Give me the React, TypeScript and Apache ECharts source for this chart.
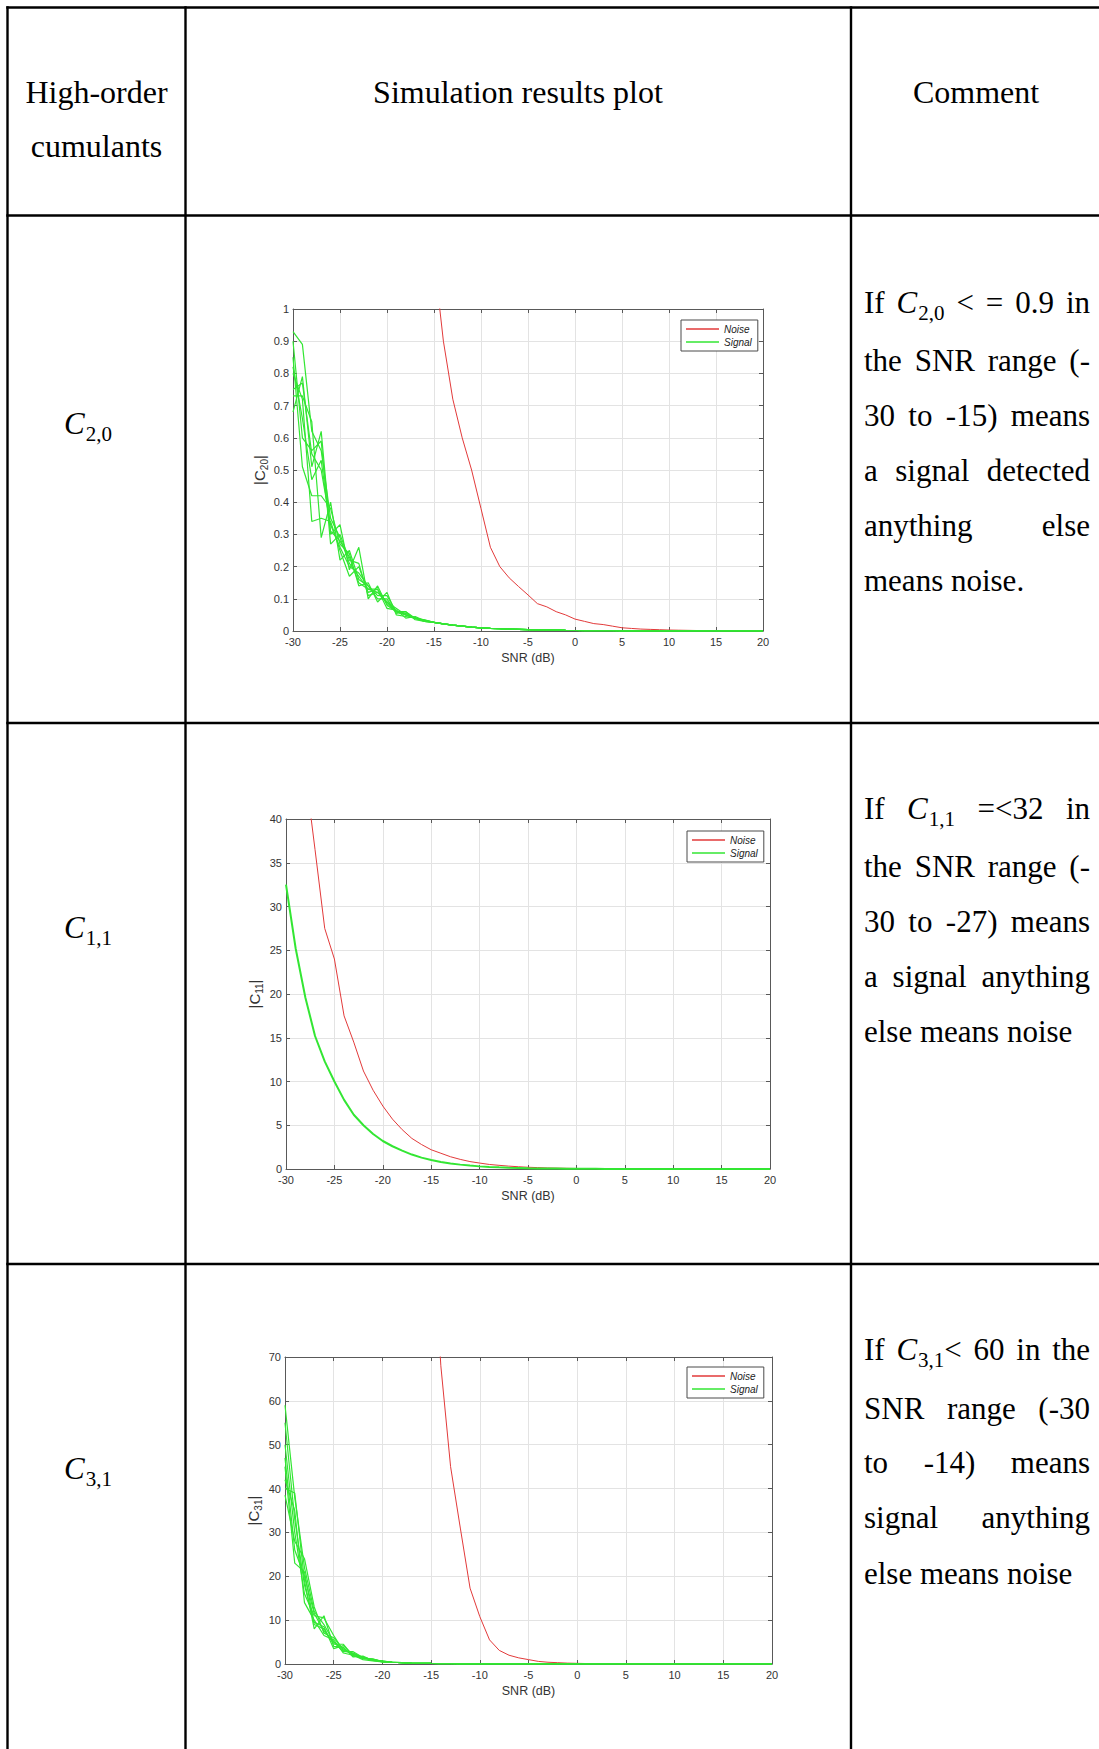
import React, { useEffect, useRef } from "react";
import * as echarts from "echarts";

// ---------------- DATA ----------------
const snrDb = [-30, -29, -28, -27, -26, -25, -24, -23, -22, -21, -20, -19, -18, -17, -16, -15, -14, -13, -12, -11, -10, -9, -8, -7, -6, -5, -4, -3, -2, -1, 0, 1, 2, 3, 4, 5, 6, 7, 8, 9, 10, 11, 12, 13, 14, 15, 16, 17, 18, 19, 20];

// |C20| noise (values off the top of the plot before -15 dB are not visible)
const c20Noise = [null, null, null, null, null, null, null, null, null, null, null, null, null, null, null,
  1.16, 0.9, 0.72, 0.6, 0.5, 0.38, 0.26, 0.2, 0.165, 0.138, 0.112, 0.085, 0.075, 0.06, 0.05, 0.037, 0.03, 0.023, 0.02, 0.015, 0.01, 0.008, 0.006, 0.005, 0.004, 0.003, 0.0025, 0.002, 0.0015, 0.001, 0.001, 0.0008, 0.0006, 0.0005, 0.0004, 0.0003];

// |C20| signal runs, -30 .. -16 dB
const c20SignalRun1 = [0.93, 0.89, 0.62, 0.56, 0.35, 0.29, 0.21, 0.17, 0.13, 0.12, 0.09, 0.06, 0.05, 0.04, 0.035];
const c20SignalRun2 = [0.68, 0.79, 0.51, 0.62, 0.3, 0.33, 0.19, 0.26, 0.1, 0.14, 0.08, 0.06, 0.06, 0.035, 0.03];
const c20SignalRun3 = [0.85, 0.51, 0.42, 0.42, 0.38, 0.27, 0.24, 0.14, 0.15, 0.09, 0.12, 0.05, 0.045, 0.04, 0.03];
const c20SignalRun4 = [0.8, 0.72, 0.34, 0.35, 0.34, 0.25, 0.17, 0.2, 0.12, 0.13, 0.07, 0.065, 0.04, 0.045, 0.032];
const c20SignalRun5 = [0.73, 0.73, 0.65, 0.29, 0.4, 0.22, 0.25, 0.16, 0.14, 0.1, 0.1, 0.055, 0.06, 0.04, 0.033];
const c20SignalRun6 = [0.9, 0.6, 0.56, 0.59, 0.27, 0.3, 0.22, 0.21, 0.11, 0.12, 0.09, 0.07, 0.05, 0.04, 0.03];
const c20SignalRun7 = [0.75, 0.77, 0.55, 0.5, 0.33, 0.26, 0.2, 0.18, 0.14, 0.11, 0.11, 0.06, 0.055, 0.038, 0.034];
const c20SignalRun8 = [0.82, 0.66, 0.47, 0.53, 0.31, 0.28, 0.23, 0.15, 0.13, 0.13, 0.085, 0.06, 0.05, 0.042, 0.031];
// common tail of the signal runs, -15 .. 20 dB
const c20SignalTail = [0.027, 0.022, 0.018, 0.015, 0.012, 0.01, 0.008, 0.007, 0.006, 0.005, 0.004, 0.0035, 0.003, 0.0025, 0.002, 0.0016, 0.0013, 0.001, 0.0008, 0.0007, 0.0006, 0.0005, 0.0004, 0.0003, 0.0003, 0.0002, 0.0002, 0.0002, 0.0001, 0.0001, 0.0001, 0.0001, 0.0001, 0.0001, 0.0001, 0.0001];

// |C11|
const c11Noise = [null, null, 45.3, 36.5, 27.5, 24, 17.5, 14.5, 11.2, 9, 7.2, 5.7, 4.5, 3.5, 2.8, 2.2, 1.8, 1.4, 1.1, 0.85, 0.68, 0.52, 0.42, 0.33, 0.26, 0.2, 0.16, 0.12, 0.1, 0.08, 0.06, 0.05, 0.04, 0.03, 0.025, 0.02, 0.016, 0.013, 0.01, 0.008, 0.006, 0.005, 0.004, 0.003, 0.0025, 0.002, 0.0016, 0.0013, 0.001, 0.0008, 0.0006];
const c11Signal = [32.5, 25.2, 19.6, 15.2, 12.3, 10.0, 7.9, 6.2, 5.0, 4.0, 3.2, 2.6, 2.1, 1.65, 1.3, 1.02, 0.8, 0.63, 0.5, 0.39, 0.3, 0.24, 0.19, 0.15, 0.12, 0.09, 0.07, 0.055, 0.045, 0.035, 0.028, 0.022, 0.017, 0.013, 0.01, 0.008, 0.006, 0.005, 0.004, 0.003, 0.0025, 0.002, 0.0016, 0.0013, 0.001, 0.0008, 0.0006, 0.0005, 0.0004, 0.0003, 0.0002];

// |C31|
const c31Noise = [null, null, null, null, null, null, null, null, null, null, null, null, null, null, null,
  105, 68, 45, 31, 17.3, 10.8, 5.5, 3.1, 2.0, 1.4, 1.0, 0.6, 0.4, 0.3, 0.2, 0.15, 0.1, 0.08, 0.06, 0.04, 0.03, 0.022, 0.016, 0.012, 0.009, 0.007, 0.005, 0.004, 0.003, 0.002, 0.0015, 0.001, 0.0008, 0.0006, 0.0004, 0.0003];
// |C31| signal runs, -30 .. -20 dB
const c31SignalRun1 = [59, 38, 22, 12, 9, 5, 3.5, 2.2, 1.5, 1.0, 0.6];
const c31SignalRun2 = [50, 30, 16, 11, 10.5, 6.5, 3, 2.5, 1.4, 0.9, 0.5];
const c31SignalRun3 = [45, 23, 21, 9, 8, 4.5, 4.5, 1.8, 1.6, 0.8, 0.6];
const c31SignalRun4 = [42, 35, 14, 10, 6.5, 5.5, 2.5, 2.0, 1.2, 1.1, 0.5];
const c31SignalRun5 = [40, 39, 19, 8, 11, 4, 3.8, 1.6, 1.8, 0.8, 0.7];
const c31SignalRun6 = [38.5, 28, 24, 13, 7, 6, 3.2, 2.4, 1.3, 1.2, 0.55];
const c31SignalRun7 = [55, 33, 18, 9.5, 8.5, 3.5, 4.2, 2.0, 1.0, 0.7, 0.45];
const c31SignalRun8 = [47, 26, 20, 11.5, 7.5, 5, 2.8, 2.8, 1.5, 1.0, 0.65];
// common tail, -19 .. 20 dB
const c31SignalTail = [0.4, 0.3, 0.22, 0.16, 0.12, 0.09, 0.07, 0.05, 0.04, 0.03, 0.022, 0.016, 0.012, 0.009, 0.007, 0.005, 0.004, 0.003, 0.0025, 0.002, 0.0015, 0.0012, 0.001, 0.0008, 0.0006, 0.0005, 0.0004, 0.0003, 0.0003, 0.0002, 0.0002, 0.0002, 0.0001, 0.0001, 0.0001, 0.0001, 0.0001, 0.0001, 0.0001, 0.0001];

const seriesNames = ["Noise", "Signal"];
const xAxisTitle = "SNR (dB)";
const yAxisSubscripts = ["20", "11", "31"];
const yMaxima = [1, 40, 70];
const yIntervals = [0.1, 5, 10];

const headerTexts = [["High-order", "cumulants"], ["Simulation results plot"], ["Comment"]];
const rowLabelSubs = ["2,0", "1,1", "3,1"];

type Tok = string | { c: string; sub: string; tail?: string };
type Line = { toks: Tok[]; justify: boolean };
const comment1: Line[] = [
  { toks: ["If", { c: "C", sub: "2,0" }, "<", "=", "0.9", "in"], justify: true },
  { toks: ["the", "SNR", "range", "(-"], justify: true },
  { toks: ["30", "to", "-15)", "means"], justify: true },
  { toks: ["a", "signal", "detected"], justify: true },
  { toks: ["anything", "else"], justify: true },
  { toks: ["means", "noise."], justify: false },
];
const comment2: Line[] = [
  { toks: ["If", { c: "C", sub: "1,1" }, "=<32", "in"], justify: true },
  { toks: ["the", "SNR", "range", "(-"], justify: true },
  { toks: ["30", "to", "-27)", "means"], justify: true },
  { toks: ["a", "signal", "anything"], justify: true },
  { toks: ["else", "means", "noise"], justify: false },
];
const comment3: Line[] = [
  { toks: ["If", { c: "C", sub: "3,1", tail: "<" }, "60", "in", "the"], justify: true },
  { toks: ["SNR", "range", "(-30"], justify: true },
  { toks: ["to", "-14)", "means"], justify: true },
  { toks: ["signal", "anything"], justify: true },
  { toks: ["else", "means", "noise"], justify: false },
];

// ---------------- LAYOUT / STYLE ----------------
const SERIF = "Liberation Serif";
const SANS = "Liberation Sans";
const RED = "#e23a3a";
const GREEN = "#33e633";
const AXIS = "#595959";
const GRIDC = "#e3e3e3";
const LABELC = "#333333";

let measureCtx: CanvasRenderingContext2D | null = null;
function measure(text: string, fs: number, italic = false): number {
  if (!measureCtx) measureCtx = document.createElement("canvas").getContext("2d");
  measureCtx!.font = `${italic ? "italic " : ""}${fs}px "${SERIF}"`;
  return measureCtx!.measureText(text).width;
}

function txt(text: string, x: number, baseline: number, fs: number, italic = false, align = "left") {
  return {
    type: "text",
    x,
    y: baseline - 0.3375 * fs,
    silent: true,
    style: {
      text,
      fontSize: fs,
      fontFamily: SERIF,
      fontStyle: italic ? "italic" : "normal",
      fill: "#000",
      align,
      verticalAlign: "middle",
    },
  };
}

const FS = 31;
const HFS = 32;
const SUBFS = 21;

function mathEls(t: { c: string; sub: string; tail?: string }, x: number, baseline: number) {
  const els: any[] = [];
  const wc = measure(t.c, FS, true);
  els.push(txt(t.c, x, baseline, FS, true));
  els.push(txt(t.sub, x + wc + 1, baseline + 7, SUBFS));
  let w = wc + 1 + measure(t.sub, SUBFS);
  if (t.tail) {
    els.push(txt(t.tail, x + w, baseline, FS));
    w += measure(t.tail, FS);
  }
  return { els, w };
}
function tokWidth(t: Tok) {
  if (typeof t === "string") return measure(t, FS);
  let w = measure(t.c, FS, true) + 1 + measure(t.sub, SUBFS);
  if (t.tail) w += measure(t.tail, FS);
  return w;
}

function paragraph(lines: Line[], x0: number, x1: number, baselines: number[]) {
  const out: any[] = [];
  lines.forEach((ln, i) => {
    const ws = ln.toks.map(tokWidth);
    const total = ws.reduce((a, b) => a + b, 0);
    const gap = ln.justify && ln.toks.length > 1 ? (x1 - x0 - total) / (ln.toks.length - 1) : measure(" ", FS);
    let x = x0;
    ln.toks.forEach((t, k) => {
      if (typeof t === "string") out.push(txt(t, x, baselines[i], FS));
      else out.push(...mathEls(t, x, baselines[i]).els);
      x += ws[k] + gap;
    });
  });
  return out;
}

function buildGraphic() {
  const els: any[] = [];
  const L = (x1: number, y1: number, x2: number, y2: number) =>
    els.push({ type: "line", silent: true, z: 100, shape: { x1, y1, x2, y2 }, style: { stroke: "#000", lineWidth: 2.4 } });
  const colX = [7.5, 185.5, 851];
  const rowY = [7.5, 215.5, 723, 1264];
  rowY.forEach((y) => L(6.3, y, 1099, y));
  colX.forEach((x) => L(x, 6.3, x, 1749));

  // header
  els.push(txt(headerTexts[0][0], 96.5, 103, HFS, false, "center"));
  els.push(txt(headerTexts[0][1], 96.5, 157, HFS, false, "center"));
  els.push(txt(headerTexts[1][0], 518, 103, HFS, false, "center"));
  els.push(txt(headerTexts[2][0], 976, 103, HFS, false, "center"));

  // row labels
  const rowBase = [434, 938, 1479];
  rowLabelSubs.forEach((s, i) => els.push(...mathEls({ c: "C", sub: s }, 64, rowBase[i]).els));

  // comments
  els.push(...paragraph(comment1, 864, 1090, [313, 371, 426, 481, 536, 591]));
  els.push(...paragraph(comment2, 864, 1090, [819, 877, 932, 987, 1042]));
  els.push(...paragraph(comment3, 864, 1090, [1360, 1419, 1473, 1528, 1584]));
  return els;
}

function pairs(vals: (number | null)[]) {
  return snrDb.map((x, i) => [x, vals[i] === null || vals[i] === undefined ? "-" : vals[i]]);
}

function buildOption() {
  const grids = [
    { left: 293, top: 309, width: 470, height: 322 },
    { left: 286, top: 819, width: 484, height: 350 },
    { left: 285, top: 1357, width: 487, height: 307 },
  ];
  const legendPos = [
    { left: 681, top: 320 },
    { left: 687, top: 831 },
    { left: 687, top: 1367 },
  ];
  const signalSets = [
    [c20SignalRun1, c20SignalRun2, c20SignalRun3, c20SignalRun4, c20SignalRun5, c20SignalRun6, c20SignalRun7, c20SignalRun8].map((h) => h.concat(c20SignalTail)),
    [c11Signal],
    [c31SignalRun1, c31SignalRun2, c31SignalRun3, c31SignalRun4, c31SignalRun5, c31SignalRun6, c31SignalRun7, c31SignalRun8].map((h) => h.concat(c31SignalTail)),
  ];
  const noiseSets = [c20Noise, c11Noise, c31Noise];

  const xAxis: any[] = [];
  const yAxis: any[] = [];
  const series: any[] = [];
  const legend: any[] = [];
  const tick = { show: true, inside: true, length: 4, lineStyle: { color: AXIS, width: 1 } };
  const axisLine = { show: true, onZero: false, lineStyle: { color: AXIS, width: 1 } };

  grids.forEach((g, i) => {
    xAxis.push({
      gridIndex: i, type: "value", min: -30, max: 20, interval: 5, position: "bottom",
      axisLine, axisTick: tick,
      axisLabel: { fontSize: 11, color: LABELC, margin: 5, fontFamily: SANS },
      splitLine: { show: true, lineStyle: { color: GRIDC, width: 1 } },
      name: xAxisTitle, nameLocation: "middle", nameGap: 20,
      nameTextStyle: { fontSize: 12.5, color: LABELC, fontFamily: SANS },
    });
    xAxis.push({
      gridIndex: i, type: "value", min: -30, max: 20, interval: 5, position: "top",
      axisLine, axisTick: tick, axisLabel: { show: false }, splitLine: { show: false },
    });
    yAxis.push({
      gridIndex: i, type: "value", min: 0, max: yMaxima[i], interval: yIntervals[i], position: "left",
      axisLine, axisTick: tick,
      axisLabel: { fontSize: 11, color: LABELC, margin: 4, fontFamily: SANS },
      splitLine: { show: true, lineStyle: { color: GRIDC, width: 1 } },
      name: "{m||C}{s|" + yAxisSubscripts[i] + "}{m||}", nameLocation: "middle", nameGap: 22,
      nameTextStyle: {
        fontSize: 15, color: LABELC, fontFamily: SANS,
        rich: {
          m: { fontSize: 15, color: LABELC, fontFamily: SANS, lineHeight: 20, verticalAlign: "middle" },
          s: { fontSize: 10, color: LABELC, fontFamily: SANS, lineHeight: 20, verticalAlign: "bottom" },
        },
      },
    });
    yAxis.push({
      gridIndex: i, type: "value", min: 0, max: yMaxima[i], interval: yIntervals[i], position: "right",
      axisLine, axisTick: tick, axisLabel: { show: false }, splitLine: { show: false },
    });
    series.push({
      type: "line", name: seriesNames[0], xAxisIndex: 2 * i, yAxisIndex: 2 * i,
      data: pairs(noiseSets[i]), symbol: "none", clip: true, connectNulls: false,
      lineStyle: { color: RED, width: 1 }, itemStyle: { color: RED }, z: 2,
    });
    signalSets[i].forEach((run) => {
      series.push({
        type: "line", name: seriesNames[1], xAxisIndex: 2 * i, yAxisIndex: 2 * i,
        data: pairs(run), symbol: "none", clip: true,
        lineStyle: { color: GREEN, width: i === 1 ? 2 : 1.2 }, itemStyle: { color: GREEN }, z: 3,
      });
    });
    legend.push({
      ...legendPos[i], orient: "vertical", data: seriesNames, selectedMode: false,
      icon: "rect", itemWidth: 33, itemHeight: 1.5, itemGap: 3, padding: [4, 6, 4, 5],
      borderColor: "#4a4a4a", borderWidth: 1, backgroundColor: "#fff",
      textStyle: { fontSize: 10, fontStyle: "italic", color: "#222", fontFamily: SANS },
    });
  });

  return {
    animation: false,
    backgroundColor: "#ffffff",
    grid: grids.map((g) => ({ ...g, containLabel: false })),
    xAxis, yAxis, series, legend,
    graphic: { elements: buildGraphic() },
  };
}

export default function App() {
  const ref = useRef<HTMLDivElement>(null);
  useEffect(() => {
    if (!ref.current) return;
    const chart = echarts.init(ref.current, undefined, { renderer: "svg" });
    chart.setOption(buildOption() as any);
    return () => chart.dispose();
  }, []);
  return (
    <div
      ref={ref}
      style={{ position: "absolute", left: 0, top: 0, width: 1099, height: 1749, background: "#fff" }}
    />
  );
}
